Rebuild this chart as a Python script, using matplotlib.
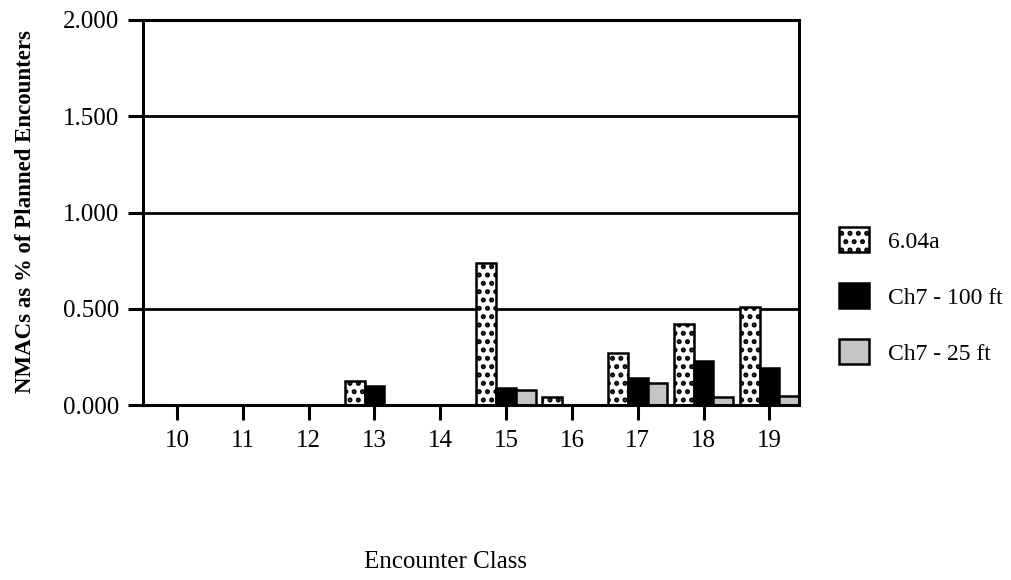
import matplotlib.pyplot as plt
import numpy as np

plt.rcParams['font.family'] = ['Liberation Serif', 'DejaVu Serif']
plt.rcParams['hatch.linewidth'] = 2.4

classes = [10, 11, 12, 13, 14, 15, 16, 17, 18, 19]
v604a = [0.0, 0.0, 0.0, 0.125, 0.0, 0.74, 0.04, 0.27, 0.42, 0.51]
ch7_100 = [0.0, 0.0, 0.0, 0.10, 0.0, 0.09, 0.0, 0.14, 0.23, 0.19]
ch7_25 = [0.0, 0.0, 0.0, 0.0, 0.0, 0.08, 0.0, 0.115, 0.04, 0.045]
series_names = ["6.04a", "Ch7 - 100 ft", "Ch7 - 25 ft"]

fig = plt.figure(figsize=(10.11, 5.8), dpi=100)
ax = fig.add_axes([143 / 1011, 1 - 405 / 580, (799 - 143) / 1011, (405 - 20) / 580])

x = np.array(classes, dtype=float)
w = 0.3

# horizontal grid lines behind bars
for yv in [0.5, 1.0, 1.5]:
    ax.axhline(yv, color="black", linewidth=2.0, zorder=1)

b1 = ax.bar(x - w, v604a, w, color="white", edgecolor="black",
            hatch="..", linewidth=1.8, zorder=2, label=series_names[0])
b2 = ax.bar(x, ch7_100, w, color="black", edgecolor="black",
            linewidth=1.8, zorder=2, label=series_names[1])
b3 = ax.bar(x + w, ch7_25, w, color="#c4c4c4", edgecolor="black",
            linewidth=1.8, zorder=2, label=series_names[2])

ax.set_xlim(9.485, 19.45)
ax.set_ylim(0, 2.0)
ax.set_xticks(classes)
ax.set_yticks([0.0, 0.5, 1.0, 1.5, 2.0])
ax.set_yticklabels(["0.000", "0.500", "1.000", "1.500", "2.000"])

for s in ax.spines.values():
    s.set_linewidth(2.2)
ax.tick_params(axis="both", direction="out", width=2.2, labelsize=18)
ax.tick_params(axis="y", length=11, pad=6)
ax.tick_params(axis="x", length=11, pad=7)

fig.text(26 / 1011, 1 - 212 / 580, "NMACs as % of Planned Encounters",
         rotation=90, ha="center", va="center", fontsize=16.5, fontweight="bold")
fig.text(446 / 1011, 1 - 562 / 580, "Encounter Class",
         ha="center", va="center", fontsize=18)

leg = fig.legend(handles=[b1, b2, b3], labels=series_names,
                 loc="center left", bbox_to_anchor=(818 / 1011, 1 - 296 / 580),
                 frameon=False, fontsize=17, handlelength=1.25, handleheight=1.25,
                 handletextpad=0.8, labelspacing=1.3)

fig.savefig("out.png", dpi=100)
